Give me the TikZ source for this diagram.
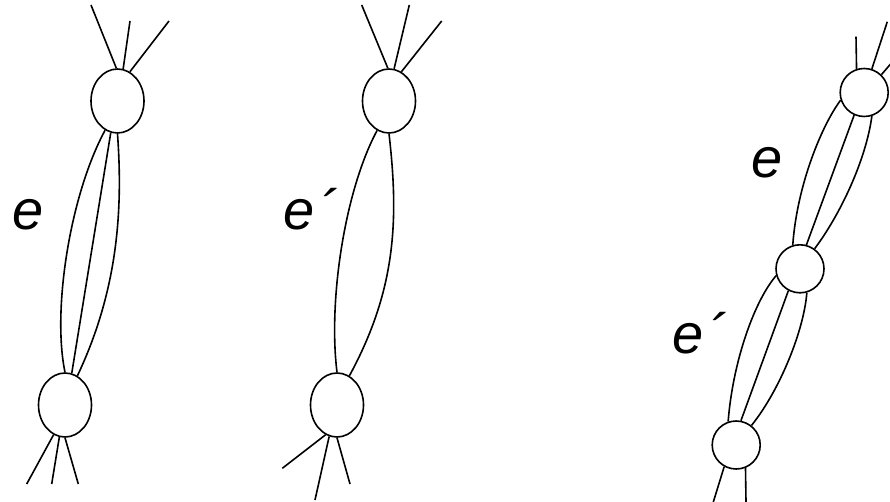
\documentclass[tikz,border=0pt]{standalone}
\usepackage{fontspec}
\setmainfont{Liberation Sans}
\usetikzlibrary{shapes.geometric}

\begin{document}
\begin{tikzpicture}[
            x=1pt, y=-1pt,
            vtx/.style={draw, ellipse, line width=1.6pt, inner sep=0pt,
                    minimum width=53pt, minimum height=64pt},
            rvtx/.style={draw, circle, line width=1.6pt, inner sep=0pt,
                    minimum size=48pt},
            ln/.style={line width=1.6pt},
            lbl/.style={font=\fontsize{56}{56}\selectfont\itshape,
                    inner sep=0pt, anchor=base}]

        \useasboundingbox (0,0) rectangle (890,502);

        % first graph: e
        \node[vtx] (t1) at (117.5,101) {};
        \node[vtx] (b1) at (65,405) {};
        \coordinate (t1a) at (91,5);
        \coordinate (t1b) at (130,21);
        \coordinate (t1c) at (169,21);
        \coordinate (b1a) at (26.7,484);
        \coordinate (b1b) at (51.7,484);
        \coordinate (b1c) at (78.3,484);

        \draw[ln] (t1a) -- (t1.92);
        \draw[ln] (t1b) -- (t1.80);
        \draw[ln] (t1c) -- (t1.67);
        \draw[ln] (t1.247) .. controls (70,195) and (52,310) .. (b1.90);
        \draw[ln] (t1.258) -- (b1.78);
        \draw[ln] (t1.270) .. controls (123,210) and (118,290) .. (b1.67);
        \draw[ln] (b1.249) -- (b1a);
        \draw[ln] (b1.260) -- (b1b);
        \draw[ln] (b1.270) -- (b1c);

        \node[lbl] (le1) at (28,230) {e};

        % second graph: e'
        \node[vtx] (t2) at (389,101) {};
        \node[vtx] (b2) at (337,405) {};
        \coordinate (t2a) at (361.7,5);
        \coordinate (t2b) at (409.3,5);
        \coordinate (t2c) at (441.7,21);
        \coordinate (b2a) at (282.3,468.3);
        \coordinate (b2b) at (315,500);
        \coordinate (b2c) at (350,484);

        \draw[ln] (t2a) -- (t2.92);
        \draw[ln] (t2b) -- (t2.81);
        \draw[ln] (t2c) -- (t2.67);
        \draw[ln] (t2.248) .. controls (345,190) and (328,300) .. (b2.90);
        \draw[ln] (t2.270) .. controls (399,220) and (396,290) .. (b2.67);
        \draw[ln] (b2.249) -- (b2a);
        \draw[ln] (b2.256) -- (b2b);
        \draw[ln] (b2.270) -- (b2c);

        \node[lbl, anchor=base west] (le2) at (283,230) {e\kern5pt´};

        % third graph: e and e' in a row
        \node[rvtx] (t3) at (864.2,92.5) {};
        \node[rvtx] (m3) at (800,268.8) {};
        \node[rvtx] (b3) at (736.2,445) {};
        \coordinate (t3a) at (856,36.7);
        \coordinate (t3b) at (887.3,21.7);
        \coordinate (t3c) at (891,63.5);
        \coordinate (b3a) at (713.3,502);
        \coordinate (b3b) at (746,502);

        \draw[ln] (t3a) -- (t3.108);
        \draw[ln] (t3b) -- (t3.72);
        \draw[ln] (t3c) -- (t3.46);
        \draw[ln] (t3.198) .. controls (822,125) and (797,185) .. (m3.107);
        \draw[ln] (t3.246) -- (m3.75);
        \draw[ln] (t3.288) .. controls (866,160) and (840,215) .. (m3.54);
        \draw[ln] (m3.196) .. controls (755,300) and (733,360) .. (b3.109);
        \draw[ln] (m3.242) -- (b3.79);
        \draw[ln] (m3.286) .. controls (804,330) and (780,390) .. (b3.52);
        \draw[ln] (b3.241) -- (b3a);
        \draw[ln] (b3.292) -- (b3b);

        \node[lbl] (le3) at (767,178) {e};
        \node[lbl, anchor=base west] (le4) at (672,353) {e\kern5pt´};
\end{tikzpicture}
\end{document}
